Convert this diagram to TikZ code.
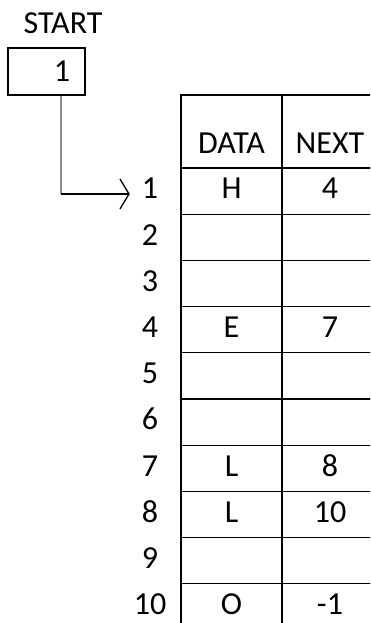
\documentclass[tikz,border=0pt]{standalone}
\usepackage{fontspec}
\setmainfont{Carlito}
\usepackage{xcolor}
\usetikzlibrary{positioning,arrows.meta,calc}

\begin{document}
\begin{tikzpicture}[x=0.025cm, y=-0.025cm,
  every node/.style={font=\fontsize{22.8}{27}\selectfont},
  cell/.style={draw, line width=0.9pt, inner sep=0pt, align=center, text height=0.77cm, text depth=0.385cm},
  headcell/.style={draw, line width=0.9pt, inner sep=0pt, align=center, text height=1.45cm, text depth=0.375cm},
  ptr/.style={line width=1.4pt},
  barb/.style={line width=0.95pt, line join=miter}]
\useasboundingbox (0,0) rectangle (370,623);
\clip (0,0) rectangle (370,623);
% start pointer
\node (startlabel) at (63,23.5) {START};
\node[draw, line width=0.9pt, minimum height=1.175cm, inner xsep=0.375cm, text width=1.175cm, align=right] (startbox) at (46.5,71.5) {1};
% header
\node[headcell, text width=2.525cm] (hdata) at (231.5,131.5) {DATA};
\node[headcell, text width=2.4cm] (hnext) at (330,131.5) {NEXT};
% rows
\foreach \i/\d/\n in {1/H/4,2/{}/{},3/{}/{},4/E/7,5/{}/{},6/{}/{},7/L/8,8/L/10,9/{}/{},10/O/-1} {
  \node[cell, text width=2.525cm] (d\i) at (231.5,{168+46.2*(\i-0.5)}) {\d};
  \node[cell, text width=2.4cm] (n\i) at (330,{168+46.2*(\i-0.5)}) {\n};
  \node[anchor=base] (r\i) at ($(d\i.base)+(-81.5,0)$) {\i};
}
% link to first row
\coordinate (bend) at (61,194);
\coordinate (tip) at (129,194);
\draw[black!45, line width=0.85pt] (startbox.south -| bend) -- (bend);
\draw[ptr] (bend) -- (tip);
\draw[barb] ($(tip)+(-9,-15)$) -- (tip) -- ($(tip)+(-9,15)$);
\end{tikzpicture}
\end{document}
